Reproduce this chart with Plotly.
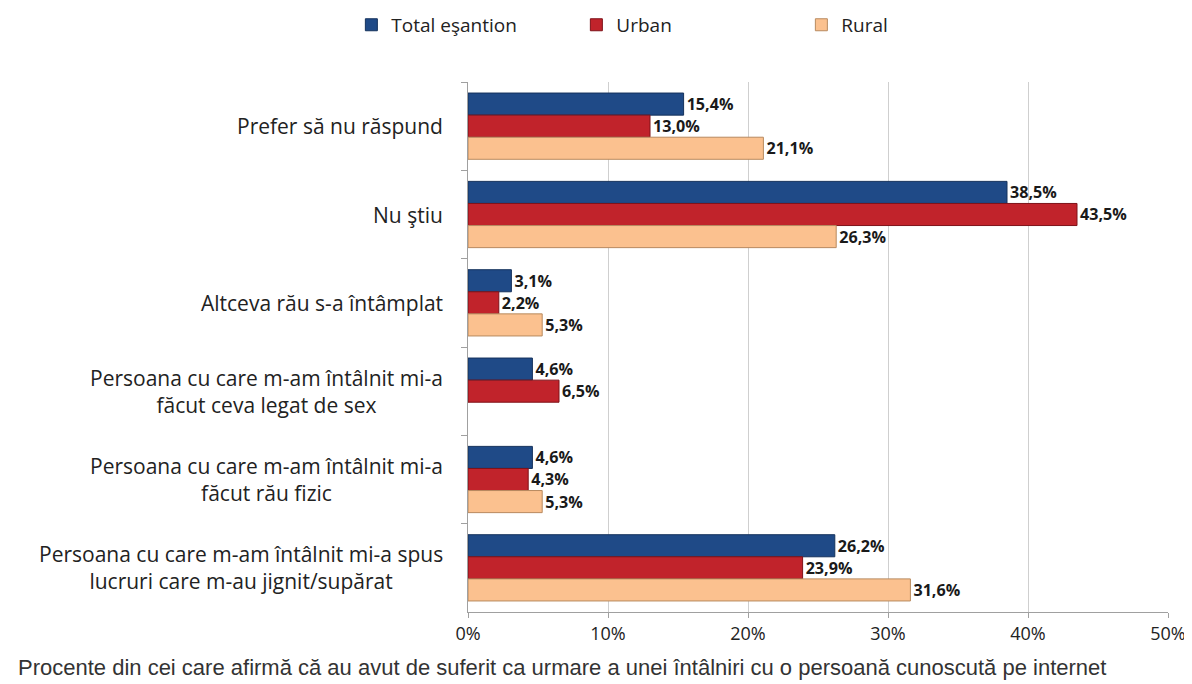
import plotly.graph_objects as go

categories = [
    "Prefer să nu răspund",
    "Nu ştiu",
    "Altceva rău s-a întâmplat",
    "Persoana cu care m-am întâlnit mi-a<br>făcut ceva legat de sex",
    "Persoana cu care m-am întâlnit mi-a<br>făcut rău fizic",
    "Persoana cu care m-am întâlnit mi-a spus<br>lucruri care m-au jignit/supărat",
]
total = [15.4, 38.5, 3.1, 4.6, 4.6, 26.2]
urban = [13.0, 43.5, 2.2, 6.5, 4.3, 23.9]
rural = [21.1, 26.3, 5.3, None, 5.3, 31.6]
series_names = ["Total eşantion", "Urban", "Rural"]
colors = ["#1F4A87", "#C1232B", "#FBC18F"]
edge_colors = ["#15325C", "#7E1219", "#B88A5F"]
tick_vals = [0, 10, 20, 30, 40, 50]
tick_text = ["0%", "10%", "20%", "30%", "40%", "50%"]
caption = "Procente din cei care afirmă că au avut de suferit ca urmare a unei întâlniri cu o persoană cunoscută pe internet"

FONT = "Open Sans, Arial, sans-serif"


def fmt(v):
    return "" if v is None else f"{v:.1f}".replace(".", ",") + "%"


fig = go.Figure()
for name, vals, c, ec in zip(series_names, [total, urban, rural], colors, edge_colors):
    fig.add_trace(go.Bar(
        y=categories, x=vals, name=name, orientation="h",
        marker=dict(color=c, line=dict(color=ec, width=1)),
        text=[fmt(v) for v in vals], textposition="outside",
        textfont=dict(family=FONT, size=19, color="#1a1a1a", weight="bold"),
        cliponaxis=False,
    ))

fig.update_layout(
    width=1184, height=676,
    paper_bgcolor="white", plot_bgcolor="white",
    margin=dict(l=460, r=24, t=74, b=72, autoexpand=False),
    barmode="group", bargap=0.25, bargroupgap=0,
    font=dict(family=FONT, color="#222222"),
    legend=dict(orientation="h", x=0.29, xref="container", xanchor="left", y=0.975, yref="container",
                yanchor="middle", font=dict(size=19, color="#222222"), entrywidth=180,
                traceorder="normal", itemclick=False),
    uniformtext=dict(mode=False),
)
fig.update_xaxes(range=[0, 50], tickvals=tick_vals, ticktext=tick_text,
                 showgrid=True, gridcolor="#CFCFCF", gridwidth=1,
                 showline=True, linecolor="#A0A0A0", ticks="outside", tickcolor="#A0A0A0",
                 ticklen=5, zeroline=False,
                 tickfont=dict(family=FONT, size=18, color="#222222"))
fig.update_yaxes(autorange="reversed", tickson="boundaries", ticks="outside", ticklen=6,
                 tickcolor="#A0A0A0", showline=True, linecolor="#A0A0A0", showgrid=False,
                 showticklabels=False)
for cat in categories:
    fig.add_annotation(text=cat, xref="paper", yref="y", x=-0.033, y=cat,
                       xanchor="right", yanchor="middle", align="center", showarrow=False,
                       font=dict(family=FONT, size=21, color="#222222"))
fig.add_annotation(text=caption, xref="paper", yref="paper", x=-0.646, y=-0.104,
                   xanchor="left", yanchor="middle", showarrow=False,
                   font=dict(family="Liberation Sans, Arial, sans-serif", size=22, color="#333333"))

fig.write_html("out.html")
